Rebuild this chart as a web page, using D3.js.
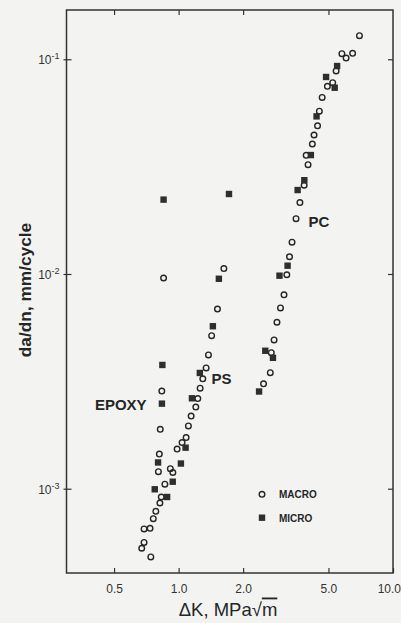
<!DOCTYPE html>
<html>
<head>
<meta charset="utf-8">
<script src="https://cdn.jsdelivr.net/npm/d3@7"></script>
<style>
  html, body { margin: 0; padding: 0; background: #f3f3f1; }
  svg { display: block; }
  text { font-family: "Liberation Sans", Arial, Helvetica, sans-serif; }
</style>
</head>
<body>
<svg id="chart" width="401" height="623"></svg>
<script>
// ---- data ----
// MACRO (open circles): ΔK in MPa√m, da/dn in mm/cycle
const macroK = [
  0.851, 0.835, 0.821, 0.813, 0.805, 0.915, 0.940, 0.863, 0.830, 0.818, 0.783, 0.762, 0.736, 0.690, 0.690, 0.673, 0.742,
  0.984, 1.038, 1.084, 1.111, 1.144, 1.203, 1.229, 1.260, 1.297, 1.344, 1.378, 1.426, 1.518, 1.626,
  2.490, 2.677, 2.706, 2.788, 2.876, 2.987, 3.102, 3.197, 3.291, 3.381, 3.529, 3.680, 3.850, 4.016, 3.935, 4.205,
  4.283, 4.447, 4.534, 4.673, 4.942, 5.233, 5.428, 6.043, 5.776, 6.481, 6.975
];
const macroRate = [
  9.58e-3, 2.85e-3, 1.89e-3, 1.45e-3, 1.20e-3, 1.24e-3, 1.19e-3, 1.05e-3, 9.15e-4, 8.58e-4, 7.85e-4, 7.25e-4, 6.54e-4, 6.50e-4, 5.62e-4, 5.28e-4, 4.81e-4,
  1.53e-3, 1.64e-3, 1.73e-3, 1.96e-3, 2.18e-3, 2.40e-3, 2.63e-3, 2.94e-3, 3.25e-3, 3.65e-3, 4.20e-3, 5.16e-3, 6.87e-3, 1.06e-2,
  3.08e-3, 3.47e-3, 4.30e-3, 4.93e-3, 5.96e-3, 6.95e-3, 8.00e-3, 9.92e-3, 1.203e-2, 1.406e-2, 1.81e-2, 2.15e-2, 2.59e-2, 3.23e-2, 3.57e-2, 4.03e-2,
  4.44e-2, 4.90e-2, 5.73e-2, 6.64e-2, 7.48e-2, 7.78e-2, 8.82e-2, 1.013e-1, 1.062e-1, 1.066e-1, 1.288e-1
];
// MICRO (filled squares)
const microK = [
  0.851, 0.840, 0.836, 0.802, 0.774, 0.884, 0.939,
  1.025, 1.078, 1.154, 1.256, 1.445, 1.541, 1.718,
  2.373, 2.537, 2.755, 2.955, 3.224, 3.591, 3.858, 4.139, 4.400, 4.874, 5.346, 5.487
];
const microRate = [
  2.22e-2, 3.77e-3, 2.49e-3, 1.325e-3, 9.94e-4, 9.15e-4, 1.078e-3,
  1.31e-3, 1.553e-3, 2.637e-3, 3.46e-3, 5.71e-3, 9.5e-3, 2.358e-2,
  2.836e-3, 4.39e-3, 4.07e-3, 9.82e-3, 1.093e-2, 2.46e-2, 2.734e-2, 3.58e-2, 5.42e-2, 8.27e-2, 7.37e-2, 9.30e-2
];
// material labels and their anchor points (ΔK, da/dn)
const materialNames = ["EPOXY", "PS", "PC"];
const materialLabelK = [0.407, 1.424, 4.03];
const materialLabelRate = [2.33e-3, 3.09e-3, 1.66e-2];
// ticks
const xTicks = [0.5, 1.0, 2.0, 5.0, 10.0];
const xTickLabels = ["0.5", "1.0", "2.0", "5.0", "10.0"];
const yTicks = [1e-1, 1e-2, 1e-3];
const yTickExp = ["-1", "-2", "-3"];
const legendNames = ["MACRO", "MICRO"];

// ---- drawing ----
const svg = d3.select("#chart");
const W = 401, H = 623;
svg.append("rect").attr("width", W).attr("height", H).attr("fill", "#f3f3f1");

const x = d3.scaleLog().domain([0.3, 10]).range([66.5, 393]);
const y = d3.scaleLog().domain([4.05e-4, 0.1696]).range([573, 10]);

const ink = "#262626";
const [x0, x1] = x.range();
const [y0, y1] = y.range();

// frame
svg.append("rect")
  .attr("x", x0).attr("y", y1)
  .attr("width", x1 - x0).attr("height", y0 - y1)
  .attr("fill", "none").attr("stroke", "#333").attr("stroke-width", 1.5);

// bottom axis (ticks inward)
const xAxisB = d3.axisBottom(x).tickValues(xTicks)
  .tickFormat((d, i) => xTickLabels[i]).tickSizeInner(-5).tickSizeOuter(0).tickPadding(11);
const gxb = svg.append("g").attr("transform", `translate(0,${y0})`).call(xAxisB);
gxb.select(".domain").remove();
gxb.selectAll("line").attr("stroke", "#333").attr("stroke-width", 1.2);
gxb.selectAll("text").attr("font-size", 12).attr("fill", "#333");
// last label sits against the page edge: keep it inside the picture
gxb.selectAll(".tick").filter(d => d === 10).select("text")
  .attr("text-anchor", "end").attr("x", W - 393 - 0.5);

// top axis (ticks inward, no labels)
const xAxisT = d3.axisTop(x).tickValues(xTicks.slice(0, 4))
  .tickFormat("").tickSizeInner(-5).tickSizeOuter(0);
const gxt = svg.append("g").attr("transform", `translate(0,${y1})`).call(xAxisT);
gxt.select(".domain").remove();
gxt.selectAll("line").attr("stroke", "#333").attr("stroke-width", 1.2);

// left axis
const yAxisL = d3.axisLeft(y).tickValues(yTicks).tickFormat("").tickSizeInner(-5).tickSizeOuter(0);
const gyl = svg.append("g").attr("transform", `translate(${x0},0)`).call(yAxisL);
gyl.select(".domain").remove();
gyl.selectAll("line").attr("stroke", "#333").attr("stroke-width", 1.2).attr("x1", -3);
gyl.selectAll(".tick").append("text")
  .attr("x", -7).attr("y", 4.5)
  .attr("text-anchor", "end").attr("font-size", 12).attr("fill", "#333")
  .each(function(d, i) {
    const t = d3.select(this);
    t.append("tspan").text("10");
    t.append("tspan").attr("font-size", 9).attr("dy", -5).text(yTickExp[i]);
  });

// right axis
const yAxisR = d3.axisRight(y).tickValues(yTicks).tickFormat("").tickSizeInner(-5).tickSizeOuter(0);
const gyr = svg.append("g").attr("transform", `translate(${x1},0)`).call(yAxisR);
gyr.select(".domain").remove();
gyr.selectAll("line").attr("stroke", "#333").attr("stroke-width", 1.2);

// axis titles
svg.append("text")
  .attr("transform", `translate(31,290) rotate(-90)`)
  .attr("text-anchor", "middle").attr("font-size", 17.3).attr("font-weight", "bold")
  .attr("fill", ink).text("da/dn, mm/cycle");

const xl = svg.append("text")
  .attr("x", 228).attr("y", 615.5).attr("text-anchor", "middle")
  .attr("font-size", 18.5).attr("fill", ink);
xl.append("tspan").text("\u0394K, MPa\u221A");
xl.append("tspan").attr("text-decoration", "overline").text("m");

// data marks
const macro = macroK.map((k, i) => ({ k, r: macroRate[i] }));
const micro = microK.map((k, i) => ({ k, r: microRate[i] }));

svg.append("g").selectAll("circle").data(macro).join("circle")
  .attr("cx", d => x(d.k)).attr("cy", d => y(d.r)).attr("r", 2.8)
  .attr("fill", "none").attr("stroke", ink).attr("stroke-width", 1.4);

const s = 6.4;
svg.append("g").selectAll("rect").data(micro).join("rect")
  .attr("x", d => x(d.k) - s / 2).attr("y", d => y(d.r) - s / 2)
  .attr("width", s).attr("height", s).attr("fill", "#2e2e2e");

// material labels
svg.append("g").selectAll("text").data(materialNames).join("text")
  .attr("x", (d, i) => x(materialLabelK[i])).attr("y", (d, i) => y(materialLabelRate[i]))
  .attr("font-size", 15).attr("font-weight", "bold").attr("fill", ink)
  .text(d => d);

// legend
const lg = svg.append("g");
lg.append("circle").attr("cx", 262).attr("cy", 494.3).attr("r", 2.8)
  .attr("fill", "none").attr("stroke", ink).attr("stroke-width", 1.4);
lg.append("rect").attr("x", 262 - s / 2).attr("y", 517.7 - s / 2).attr("width", s).attr("height", s)
  .attr("fill", "#2e2e2e");
lg.selectAll("text").data(legendNames).join("text")
  .attr("x", 279).attr("y", (d, i) => 498 + i * 23.5)
  .attr("font-size", 10).attr("font-weight", "bold").attr("fill", ink)
  .text(d => d);
</script>
</body>
</html>
